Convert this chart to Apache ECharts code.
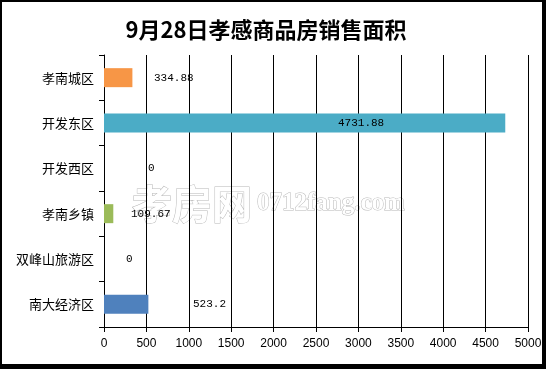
<!DOCTYPE html>
<html>
<head>
<meta charset="utf-8">
<script src="https://cdn.jsdelivr.net/npm/echarts@6/dist/echarts.min.js"></script>
<style>
html,body{margin:0;padding:0;background:#fff;}
#c{width:546px;height:369px;}
</style>
</head>
<body>
<div id="c"></div>
<script>
const titleText = '9月28日孝感商品房销售面积';
const categories = ['孝南城区', '开发东区', '开发西区', '孝南乡镇', '双峰山旅游区', '南大经济区'];
const values = [334.88, 4731.88, 0, 109.67, 0, 523.2];
const xTicks = [0, 500, 1000, 1500, 2000, 2500, 3000, 3500, 4000, 4500, 5000];

// styles (not data)
const barColors = ['#F79646', '#4BACC6', '#C0504D', '#9BBB59', '#8064A2', '#4F81BD'];
const labelLeft = [50, 234, 44, 27, 22, 89]; // px from bar start

const chart = echarts.init(document.getElementById('c'));
const CJK = '"Noto Sans CJK SC", sans-serif';

const seriesData = values.map((v, i) => ({
  value: v,
  itemStyle: { color: barColors[i] },
  label: {
    show: true,
    position: [labelLeft[i], '50%'],
    align: 'left',
    verticalAlign: 'middle'
  }
}));

chart.setOption({
  animation: false,
  backgroundColor: '#fff',
  grid: { left: 104, right: 18, top: 55, bottom: 42, containLabel: false },
  xAxis: {
    type: 'value',
    min: xTicks[0],
    max: xTicks[xTicks.length - 1],
    interval: 500,
    z: 3,
    axisLine: { show: true, lineStyle: { color: '#000', width: 1 } },
    axisTick: { show: true, length: 5, lineStyle: { color: '#000' } },
    splitLine: { show: true, lineStyle: { color: '#000', width: 1 } },
    axisLabel: { color: '#000', fontSize: 12, fontFamily: '"Liberation Sans", sans-serif', margin: 11, formatter: v => String(v) }
  },
  yAxis: {
    type: 'category',
    data: categories,
    inverse: true,
    z: 3,
    axisLine: { show: true, lineStyle: { color: '#000', width: 1 } },
    axisTick: { show: true, length: 5, lineStyle: { color: '#000' } },
    splitLine: { show: false },
    axisLabel: { color: '#000', fontSize: 13, fontFamily: CJK, margin: 10 }
  },
  series: [{
    type: 'bar',
    data: seriesData,
    barWidth: 19,
    z: 4,
    label: {
      show: true,
      color: '#000',
      fontSize: 11,
      fontFamily: '"Liberation Mono", monospace',
      formatter: p => String(p.value)
    }
  }],
  graphic: [
    {
      type: 'group', z: -1, silent: true,
      children: [
        { type: 'text', x: 132, y: 204, style: { text: '孝房网', font: 'bold 40px ' + CJK, fill: '#fff', stroke: '#b8b8b8', lineWidth: 1, textVerticalAlign: 'middle' } },
        { type: 'text', x: 257, y: 204, style: { text: '0712fang.com', font: 'bold 25px "Liberation Serif", serif', fill: '#fff', stroke: '#b8b8b8', lineWidth: 1, textVerticalAlign: 'middle' } }
      ]
    },
    { type: 'text', x: 266, y: 30, z: 100, style: { text: titleText, font: 'bold 22px ' + CJK, fill: '#000', textAlign: 'center', textVerticalAlign: 'middle' } },
    { type: 'rect', z: 100, shape: { x: 0, y: 0, width: 2, height: 369 }, style: { fill: '#000' } },
    { type: 'rect', z: 100, shape: { x: 0, y: 0, width: 546, height: 2 }, style: { fill: '#000' } },
    { type: 'rect', z: 100, shape: { x: 542, y: 0, width: 4, height: 369 }, style: { fill: '#000' } },
    { type: 'rect', z: 100, shape: { x: 0, y: 364, width: 546, height: 5 }, style: { fill: '#000' } }
  ]
});
</script>
</body>
</html>
